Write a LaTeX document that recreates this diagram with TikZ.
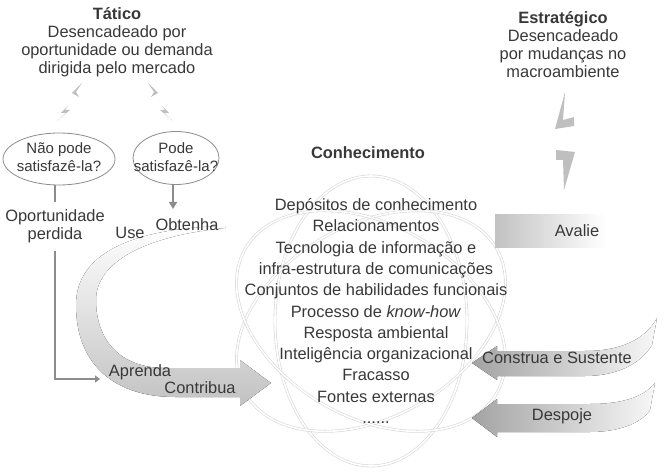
\documentclass[tikz,border=0pt]{standalone}
\usepackage{fontspec}
\setmainfont{Liberation Sans}
\usetikzlibrary{arrows.meta,shapes.geometric}
\definecolor{ink}{gray}{0.22}
\definecolor{wire}{gray}{0.55}

\begin{document}
\begin{tikzpicture}[
  x=1pt, y=-1pt,
  every node/.style = {text=ink, align=center, inner sep=0pt, font=\fontsize{16.4}{18}\selectfont},
  head/.style = {font=\fontsize{16.4}{18}\selectfont\bfseries},
  listing/.style = {font=\fontsize{16.4}{21.3}\selectfont},
  small/.style = {font=\fontsize{15}{18}\selectfont},
  ring/.style = {ellipse, draw=wire, line width=0.8pt},
  orbit/.style = {draw=black!16, double=white, double distance=1.6pt, line width=0.6pt},
  bolt/.style = {fill=black!25},
  link/.style = {draw=wire, line width=1.6pt},
  loopband/.style = {top color=white, bottom color=black!24},
  backband/.style = {left color=black!36, right color=black!3}
]
  \useasboundingbox (0,0) rectangle (672,473);

  % atom of knowledge
  \foreach \tilt in {90,30,-30}
    \draw[orbit, rotate around={\tilt:(371,321)}] (371,321) ellipse [x radius=145pt, y radius=96pt];

  % ribbons
  \fill[loopband] (225,226) .. controls (140,228) and (76,250) .. (76,305)
    .. controls (76,365) and (115,397) .. (175,397) -- (240,397) -- (240,406)
    -- (271,383) -- (240,360) -- (240,368) -- (165,368)
    .. controls (120,368) and (96,340) .. (96,300)
    .. controls (96,262) and (145,236) .. (225,228) -- cycle;
  \fill[left color=black!24, right color=white] (495,215) rectangle (605,248);
  \fill[backband] (472,363) -- (497,346) -- (497,351) -- (585,351)
    .. controls (620,351) and (645,340) .. (657,318) -- (652,345)
    .. controls (640,365) and (615,376) .. (585,376) -- (497,376) -- (497,380) -- cycle;
  \fill[backband] (472,418) -- (497,399) -- (497,404) -- (590,404)
    .. controls (620,404) and (643,398) .. (655,383) -- (650,410)
    .. controls (640,425) and (615,432) .. (590,432) -- (497,432) -- (497,437) -- cycle;

  % triggers
  \foreach \side in {1,-1}{
    \begin{scope}[shift={(115,0)}, xscale=\side]
      \fill[bolt] (-33,83) -- (-43,93) -- (-36,97) -- (-39,92) -- cycle;
      \fill[bolt] (-47,106) -- (-54,113) -- (-49,113) -- (-58,121) -- (-45,110) -- (-50,110) -- cycle;
    \end{scope}
  }
  \fill[bolt] (565,92) -- (555,129) -- (574,126) -- (574,117) -- (563,120) -- cycle;
  \fill[bolt] (556,150) -- (575,152) -- (564,190) -- (563,160) -- (556,160) -- cycle;

  % texts
  \node (tatico) at (117,42) {\textbf{Tático}\\Desencadeado por\\oportunidade ou demanda\\dirigida pelo mercado};
  \node (estrat) at (563,45) {\textbf{Estratégico}\\Desencadeado\\por mudanças no\\macroambiente};
  \node[head] (conhec) at (368,153) {Conhecimento};
  \node[listing] (itens) at (376,311) {Depósitos de conhecimento\\Relacionamentos\\Tecnologia de informação e\\
    infra-estrutura de comunicações\\Conjuntos de habilidades funcionais\\Processo de \textit{know-how}\\
    Resposta ambiental\\Inteligência organizacional\\Fracasso\\Fontes externas\\......};

  \node[ring, minimum width=112pt, minimum height=52pt] (naoring) at (59,159) {};
  \node[small] (nao) at (59,157) {Não pode\\satisfazê-la?};
  \node[ring, minimum width=86pt, minimum height=53pt] (podering) at (176,158) {};
  \node[small] (pode) at (176,157) {Pode\\satisfazê-la?};

  \node (oport) at (55,226) {Oportunidade\\perdida};
  \node (use) at (130,233) {Use};
  \node (obtenha) at (187,225) {Obtenha};
  \node (avalie) at (577,231) {Avalie};
  \node (aprenda) at (140,372) {Aprenda};
  \node (contribua) at (200,388) {Contribua};
  \node (construa) at (557,358) {Construa e Sustente};
  \node (despoje) at (562,416) {Despoje};

  % connectors
  \coordinate (get) at (173,209);
  \coordinate (learn) at (100,379);
  \draw[link] (oport.north |- naoring.south) -- ([yshift=7pt]oport.north);
  \draw[link, -{Triangle[width=7pt,length=5pt]}] ([yshift=-8pt]oport.south) |- (learn);
  \draw[link, -{Triangle[width=8pt,length=7pt]}] (podering.south -| get) -- (get);
\end{tikzpicture}
\end{document}
